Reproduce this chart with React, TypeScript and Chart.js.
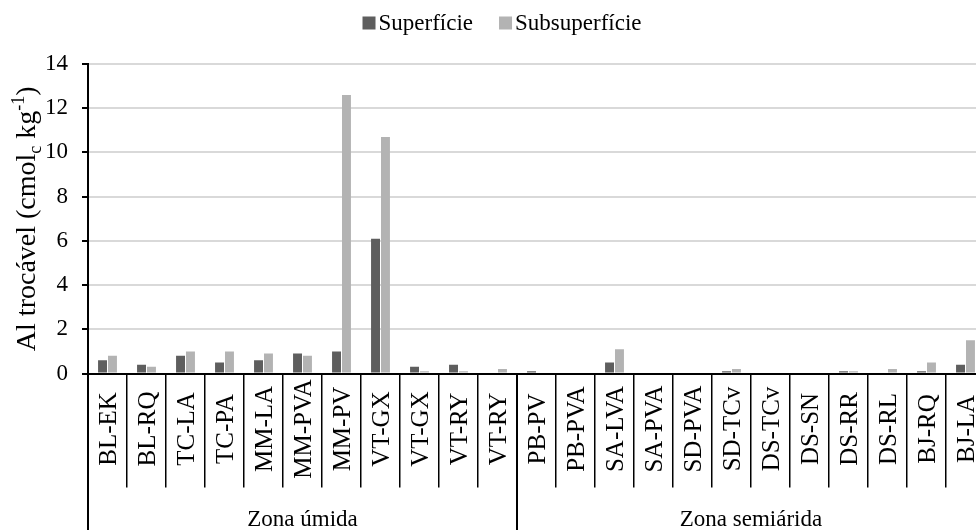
import React, { useEffect, useRef } from "react";
import { Chart, registerables } from "chart.js";

Chart.register(...registerables);

const categories = [
  "BL-EK", "BL-RQ", "TC-LA", "TC-PA", "MM-LA", "MM-PVA", "MM-PV", "VT-GX", "VT-GX", "VT-RY", "VT-RY",
  "PB-PV", "PB-PVA", "SA-LVA", "SA-PVA", "SD-PVA", "SD-TCv", "DS-TCv", "DS-SN", "DS-RR", "DS-RL", "BJ-RQ", "BJ-LA",
];
const superficie = [0.6, 0.4, 0.8, 0.5, 0.6, 0.9, 1.0, 6.1, 0.3, 0.4, 0, 0.1, 0, 0.5, 0, 0, 0.1, 0, 0, 0.1, 0, 0.1, 0.4];
const subsuperficie = [0.8, 0.3, 1.0, 1.0, 0.9, 0.8, 12.6, 10.7, 0.1, 0.1, 0.2, 0, 0, 1.1, 0, 0, 0.2, 0, 0, 0.1, 0.2, 0.5, 1.5];
const seriesLabels = ["Superfície", "Subsuperfície"];
const seriesColors = ["#5e5e5e", "#b3b3b3"];
const zoneLabels = ["Zona úmida", "Zona semiárida"];
const zoneSizes = [11, 12];
const yMin = 0;
const yMax = 14;
const yStep = 2;

const FONT = "'Liberation Serif', 'Times New Roman', serif";

const overlayPlugin = {
  id: "overlay",
  afterDraw(chart: any) {
    const ctx = chart.ctx as CanvasRenderingContext2D;
    const area = chart.chartArea;
    const xs = chart.scales.x;
    const H = chart.height;
    ctx.save();
    ctx.fillStyle = "#000";
    ctx.strokeStyle = "#000";

    // left axis extension + zone dividers
    ctx.lineWidth = 2;
    ctx.beginPath();
    ctx.moveTo(area.left, area.bottom);
    ctx.lineTo(area.left, H);
    let idx = 0;
    zoneSizes.forEach((n) => {
      idx += n;
      let xp: number;
      if (idx < categories.length) {
        xp = (xs.getPixelForValue(idx - 1) + xs.getPixelForValue(idx)) / 2;
      } else {
        xp = area.right;
      }
      ctx.moveTo(xp, area.bottom);
      ctx.lineTo(xp, H);
    });
    ctx.stroke();

    // category labels
    const catFs = 25;
    ctx.font = `${catFs}px ${FONT}`;
    ctx.textAlign = "center";
    ctx.textBaseline = "alphabetic";
    const labelMid = 429;
    categories.forEach((c, i) => {
      const xp = xs.getPixelForValue(i);
      ctx.save();
      ctx.translate(xp, labelMid);
      ctx.rotate(-Math.PI / 2);
      ctx.fillText(c, 0, catFs * 0.33);
      ctx.restore();
    });

    // zone labels
    ctx.font = `23px ${FONT}`;
    let start = 0;
    zoneSizes.forEach((n, z) => {
      const x0 = start === 0 ? area.left : (xs.getPixelForValue(start - 1) + xs.getPixelForValue(start)) / 2;
      const endIdx = start + n;
      const x1 = endIdx < categories.length ? (xs.getPixelForValue(endIdx - 1) + xs.getPixelForValue(endIdx)) / 2 : area.right;
      ctx.fillText(zoneLabels[z], (x0 + x1) / 2, 526);
      start = endIdx;
    });

    // y title
    const tf = 28;
    const sf = 18;
    const parts: [string, number, number][] = [
      ["Al trocável (cmol", tf, 0],
      ["c", sf, 6],
      [" kg", tf, 0],
      ["-1", sf, -11],
      [")", tf, 0],
    ];
    let total = 0;
    parts.forEach(([t, f]) => {
      ctx.font = `${f}px ${FONT}`;
      total += ctx.measureText(t).width;
    });
    ctx.save();
    ctx.translate(35, (area.top + area.bottom) / 2);
    ctx.rotate(-Math.PI / 2);
    ctx.textAlign = "left";
    let px = -total / 2;
    parts.forEach(([t, f, dy]) => {
      ctx.font = `${f}px ${FONT}`;
      ctx.fillText(t, px, dy);
      px += ctx.measureText(t).width;
    });
    ctx.restore();

    // legend
    const lf = 23;
    ctx.font = `${lf}px ${FONT}`;
    const box = 13;
    const gapText = 3;
    const gapItems = 26;
    const widths = seriesLabels.map((l) => box + gapText + ctx.measureText(l).width);
    const lw = widths.reduce((a, b) => a + b, 0) + gapItems * (widths.length - 1);
    let lx = 502 - lw / 2;
    ctx.textAlign = "left";
    seriesLabels.forEach((l, i) => {
      ctx.fillStyle = seriesColors[i];
      ctx.fillRect(lx, 16.5, box, box);
      ctx.fillStyle = "#000";
      ctx.fillText(l, lx + box + gapText, 30);
      lx += widths[i] + gapItems;
    });

    ctx.restore();
  },
};

export default function App() {
  const ref = useRef<HTMLCanvasElement | null>(null);
  useEffect(() => {
    if (!ref.current) return;
    const chart = new Chart(ref.current, {
      type: "bar",
      data: {
        labels: categories,
        datasets: [
          { label: seriesLabels[0], data: superficie, backgroundColor: seriesColors[0] },
          { label: seriesLabels[1], data: subsuperficie, backgroundColor: seriesColors[1] },
        ],
      },
      options: {
        responsive: false,
        animation: false,
        devicePixelRatio: 1,
        layout: { padding: { top: 64, right: 5, left: 0, bottom: 0 } },
        datasets: { bar: { categoryPercentage: 0.51, barPercentage: 0.9 } },
        plugins: { legend: { display: false }, tooltip: { enabled: false } },
        scales: {
          x: {
            ticks: { display: false },
            grid: {
              offset: true,
              drawOnChartArea: false,
              drawTicks: true,
              tickLength: 114,
              color: "#000",
              lineWidth: 1.5,
            },
            border: { display: true, color: "#000", width: 2 },
            afterFit: (s: any) => {
              s.height = 156.5;
            },
          },
          y: {
            min: yMin,
            max: yMax,
            ticks: {
              stepSize: yStep,
              color: "#000",
              padding: 14,
              font: { family: FONT, size: 23 },
            },
            grid: { color: "#d9d9d9", lineWidth: 2, tickColor: "#000", tickLength: 6 },
            border: { display: true, color: "#000", width: 2 },
            afterFit: (s: any) => {
              s.width = 88;
            },
          },
        },
      },
      plugins: [overlayPlugin],
    } as any);
    return () => chart.destroy();
  }, []);
  return (
    <div style={{ position: "absolute", left: 0, top: 0, width: 976, height: 530, overflow: "hidden", background: "#fff" }}>
      <canvas ref={ref} width={990} height={530} style={{ display: "block" }} />
    </div>
  );
}
